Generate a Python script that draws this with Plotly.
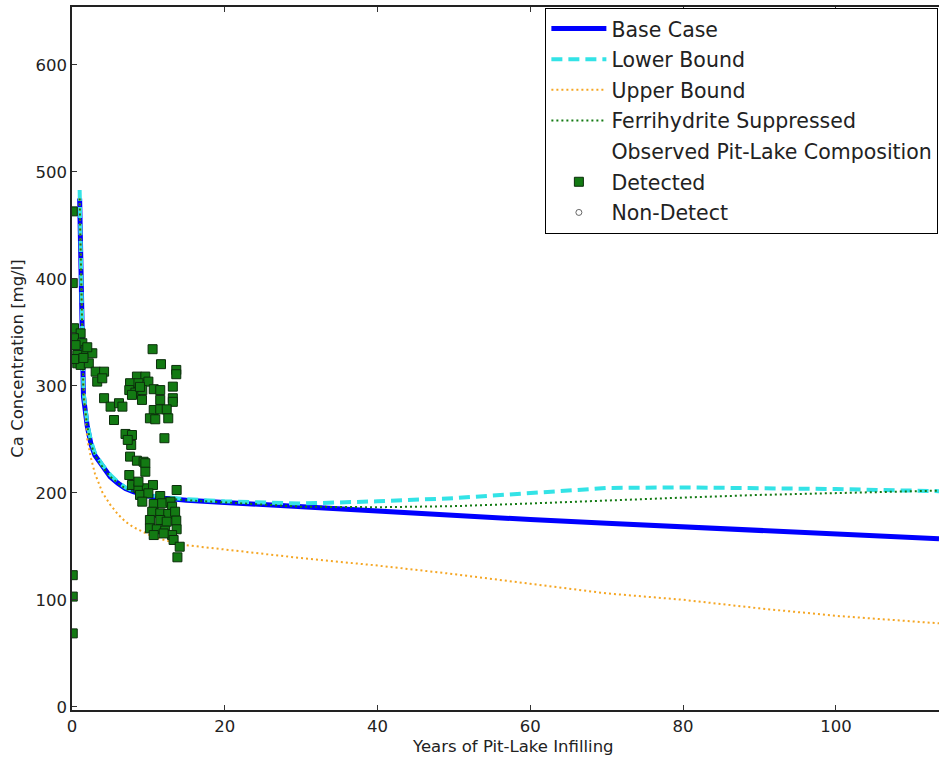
import plotly.graph_objects as go

# ---- model curves ----
base_x = [1.0, 1.5, 2, 2.5, 3, 4, 5, 6, 7, 8, 10, 12, 15, 20, 30, 40, 50, 60, 70, 80, 90, 100, 113.5]
base_y = [475, 290, 262, 245, 235, 224, 215, 209, 204, 201, 197, 195, 193, 191, 187, 182, 178, 175, 171.5, 168, 165, 162, 157]

lower_x = [1.0, 1.5, 2, 2.5, 3, 4, 5, 6, 7, 8, 10, 12, 15, 20, 30, 40, 50, 60, 70, 80, 90, 100, 113.5]
lower_y = [483, 295, 265, 248, 237, 226, 217, 210, 205, 202, 198, 196, 194, 192, 190, 192, 195, 200, 204.5, 205, 204.5, 203.5, 201.5]

upper_x = [1.0, 1.5, 2, 2.5, 3, 4, 5, 6, 7, 8, 10, 12, 15, 20, 30, 40, 50, 60, 70, 80, 90, 100, 113.5]
upper_y = [475, 300, 250, 232, 218, 200, 189, 180, 173, 168, 161, 156, 151, 147, 139, 132, 124, 115, 106, 100, 92, 85, 78]

ferri_x = [1.0, 1.5, 2, 2.5, 3, 4, 5, 6, 7, 8, 10, 12, 15, 20, 30, 40, 50, 60, 70, 80, 90, 100, 113.5]
ferri_y = [475, 290, 262, 245, 235, 224, 215, 209, 204, 201, 197, 195, 193, 191, 187, 186.5, 187.5, 190, 193, 195.5, 198, 200, 202]

# ---- observed data ----
detected_x = [0.1, 0.1, 0.1, 0.1, 0.1,
              0.26, 1.13, 0.26, 1.35, 0.47, 1.78, 2.66, 0.69, 0.69, 1.13, 2.2, 3.1, 4.2, 3.3, 3.96,
              4.2, 5.05, 6.15, 6.6, 5.5, 0.3, 1.5, 2.0,
              10.55, 11.65, 13.65, 13.65, 8.5, 9.6, 7.6, 8.7, 10.0, 7.5, 8.3, 9.2, 10.7, 7.85, 9.16,
              11.55, 13.2, 11.55, 13.2, 13.2, 10.7, 11.55, 12.4, 10.2, 10.9, 12.6, 12.1, 8.9,
              7.0, 7.85, 7.75, 7.3, 7.6, 8.5, 9.37, 9.6, 9.6, 7.5, 7.85, 8.7, 9.8, 10.6, 8.9, 10.0,
              11.55, 13.7, 9.2, 10.7, 11.8, 12.9, 13.1, 10.5, 11.55, 12.6, 13.5, 10.2, 11.55, 12.4,
              13.65, 10.2, 11.1, 12.2, 13.7, 10.7, 13.1, 12.0, 13.3, 14.1, 13.8, 8.7]
detected_y = [463, 396, 123, 103, 68.6,
              353.8, 349, 344.5, 339.8, 338, 333.5, 330.4, 328.8, 321, 319.5, 321, 313.2, 313.2, 303.9, 307,
              288.4, 280.5, 283.7, 280.5, 268, 325, 326, 336,
              334.2, 320.2, 314.8, 310.8, 308.6, 308.6, 302.4, 302.4, 303.9, 296, 293.6, 296, 296.8, 291.5, 286.8,
              296, 299.2, 286.8, 288.4, 285, 277.4, 278, 278, 269.6, 268.7, 269.6, 251, 299,
              255, 254, 244.7, 249.4, 233.8, 230, 229, 227.6, 219.7, 216.6, 207.3, 204.2, 204.2, 207.3, 198, 199.5,
              197, 202.6, 191.7, 189.5, 190.2, 191.7, 187, 182.3, 180.8, 180.2, 182.3, 174.6, 174.6, 173,
              174, 166.8, 165.9, 164.6, 165.9, 160.5, 160.5, 162, 155.9, 149.6, 139.7, 210.4]

x_ticks = [0, 20, 40, 60, 80, 100]
y_ticks = [0, 100, 200, 300, 400, 500, 600]

FONT = "DejaVu Sans"

fig = go.Figure()
fig.add_trace(go.Scatter(x=base_x, y=base_y, mode="lines", name="Base Case", legendgroup="g1",
                         line=dict(color="#0000ff", width=5)))
fig.add_trace(go.Scatter(x=lower_x, y=lower_y, mode="lines", name="Lower Bound", legendgroup="g2",
                         line=dict(color="#33e3e6", width=4, dash="11px,6px")))
fig.add_trace(go.Scatter(x=upper_x, y=upper_y, mode="lines", name="Upper Bound", legendgroup="g3",
                         line=dict(color="#f5a623", width=2, dash="2px,3px")))
fig.add_trace(go.Scatter(x=ferri_x, y=ferri_y, mode="lines", name="Ferrihydrite Suppressed", legendgroup="g4",
                         line=dict(color="#137a13", width=2, dash="2px,3px")))
fig.add_trace(go.Scatter(x=[None], y=[None], mode="markers", name="Observed Pit-Lake Composition",
                         legendgroup="g5",
                         marker=dict(color="rgba(0,0,0,0)", size=1, line=dict(width=0))))
fig.add_trace(go.Scatter(x=detected_x, y=detected_y, mode="markers", name="Detected", legendgroup="g6",
                         marker=dict(symbol="square", size=9, color="#137a13",
                                     line=dict(color="#0b2e0b", width=1))))
fig.add_trace(go.Scatter(x=[None], y=[None], mode="markers", name="Non-Detect", legendgroup="g7",
                         marker=dict(symbol="circle", size=6, color="white",
                                     line=dict(color="#666666", width=1))))

fig.update_layout(
    width=939, height=757,
    margin=dict(l=72, r=0, t=7, b=47),
    paper_bgcolor="white", plot_bgcolor="white",
    font=dict(family=FONT, size=16, color="#222222"),
    showlegend=True,
    legend=dict(x=0.546, y=0.999, xanchor="left", yanchor="top",
                bgcolor="white", bordercolor="black", borderwidth=1,
                font=dict(family=FONT, size=20.5, color="#222222"),
                itemwidth=55, traceorder="grouped", tracegroupgap=1),
    annotations=[dict(text="Years of Pit-Lake Infilling", xref="paper", yref="paper",
                      x=0.509, y=0, yshift=-36, xanchor="center", yanchor="middle",
                      showarrow=False, font=dict(family=FONT, size=16.5, color="#222222"))],
)

fig.update_xaxes(range=[0, 113.5], tickvals=x_ticks, ticks="inside", ticklen=5,
                 tickcolor="#333333", showline=True, linecolor="#222222", linewidth=1.5,
                 mirror="ticks", showgrid=False, zeroline=False,
                 tickfont=dict(family=FONT, size=16.5, color="#222222"))
fig.update_yaxes(range=[-3, 654], tickvals=y_ticks, ticks="inside", ticklen=5,
                 tickcolor="#333333", showline=True, linecolor="#222222", linewidth=1.5,
                 showgrid=False, zeroline=False, automargin=False,
                 title=dict(text="Ca Concentration [mg/l]", standoff=8,
                            font=dict(family=FONT, size=16.5, color="#222222")),
                 tickfont=dict(family=FONT, size=16.5, color="#222222"))

fig.write_html("out.html", config={"displayModeBar": False},
               post_script="document.body.style.margin='0';")
